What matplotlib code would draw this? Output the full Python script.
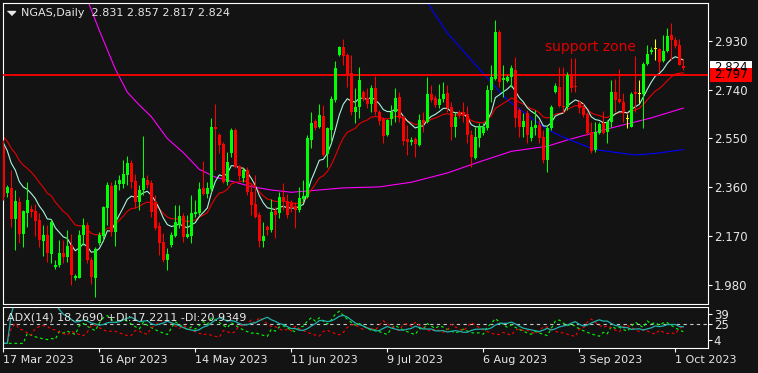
import numpy as np
import pandas as pd
import matplotlib
matplotlib.use("Agg")
import matplotlib.pyplot as plt
import matplotlib.transforms as mtransforms
from matplotlib.patches import Rectangle

# ── Data (NGAS daily, one row per bar) ───────────────────────────────────────
date_labels = ["17 Mar 2023", "16 Apr 2023", "14 May 2023", "11 Jun 2023",
               "9 Jul 2023", "6 Aug 2023", "3 Sep 2023", "1 Oct 2023"]
date_label_bars = [0, 24, 48, 72, 96, 120, 144, 168]

open_ = [
    2.517, 2.338, 2.358, 2.237, 2.303, 2.179, 2.261, 2.276, 2.268, 2.233,
    2.152, 2.175, 2.101, 2.051, 2.058, 2.105, 2.090, 2.136, 2.008, 2.008,
    2.175, 2.214, 2.078, 2.008, 2.144, 2.171, 2.280, 2.365, 2.187, 2.373,
    2.373, 2.408, 2.455, 2.385, 2.303, 2.350, 2.389, 2.377, 2.303, 2.210,
    2.148, 2.078, 2.136, 2.171, 2.214, 2.249, 2.167, 2.171, 2.257, 2.261,
    2.358, 2.334, 2.354, 2.595, 2.564, 2.529, 2.381, 2.494, 2.583, 2.443,
    2.397, 2.428, 2.342, 2.296, 2.253, 2.152, 2.206, 2.194, 2.268, 2.261,
    2.323, 2.307, 2.299, 2.288, 2.272, 2.315, 2.323, 2.544, 2.618, 2.595,
    2.637, 2.490, 2.583, 2.700, 2.874, 2.905, 2.874, 2.804, 2.653, 2.672,
    2.731, 2.707, 2.684, 2.746, 2.653, 2.626, 2.564, 2.626, 2.653, 2.711,
    2.634, 2.548, 2.536, 2.548, 2.525, 2.622, 2.614, 2.723, 2.707, 2.680,
    2.703, 2.727, 2.672, 2.595, 2.653, 2.653, 2.645, 2.564, 2.474, 2.552,
    2.571, 2.591, 2.738, 2.781, 2.964, 2.777, 2.773, 2.789, 2.816, 2.661,
    2.595, 2.649, 2.552, 2.591, 2.602, 2.556, 2.466, 2.591, 2.731, 2.750,
    2.676, 2.672, 2.797, 2.754, 2.692, 2.668, 2.645, 2.575, 2.505, 2.571,
    2.610, 2.575, 2.614, 2.731, 2.703, 2.692, 2.626, 2.595, 2.731, 2.723,
    2.723, 2.839, 2.886, 2.898, 2.898, 2.851, 2.890, 2.952, 2.933, 2.913, 2.831,
]
high = [
    2.544, 2.369, 2.428, 2.350, 2.323, 2.272, 2.381, 2.292, 2.296, 2.261,
    2.214, 2.214, 2.237, 2.078, 2.156, 2.156, 2.194, 2.179, 2.024, 2.194,
    2.241, 2.226, 2.090, 2.128, 2.187, 2.288, 2.381, 2.381, 2.389, 2.408,
    2.466, 2.482, 2.466, 2.412, 2.369, 2.560, 2.408, 2.389, 2.330, 2.226,
    2.183, 2.125, 2.187, 2.292, 2.292, 2.261, 2.253, 2.330, 2.311, 2.381,
    2.463, 2.381, 2.630, 2.684, 2.571, 2.536, 2.498, 2.591, 2.591, 2.447,
    2.435, 2.439, 2.377, 2.408, 2.264, 2.226, 2.214, 2.315, 2.284, 2.342,
    2.377, 2.334, 2.311, 2.303, 2.362, 2.389, 2.564, 2.653, 2.626, 2.684,
    2.680, 2.595, 2.715, 2.851, 2.909, 2.937, 2.882, 2.874, 2.746, 2.828,
    2.738, 2.746, 2.758, 2.793, 2.661, 2.634, 2.626, 2.680, 2.746, 2.731,
    2.641, 2.602, 2.556, 2.556, 2.645, 2.653, 2.789, 2.758, 2.719, 2.762,
    2.769, 2.758, 2.692, 2.653, 2.661, 2.692, 2.676, 2.583, 2.595, 2.610,
    2.610, 2.758, 2.835, 3.010, 2.971, 2.835, 2.797, 2.835, 2.867, 2.668,
    2.649, 2.661, 2.622, 2.661, 2.622, 2.583, 2.602, 2.680, 2.766, 2.828,
    2.828, 2.808, 2.863, 2.863, 2.700, 2.688, 2.653, 2.614, 2.614, 2.614,
    2.657, 2.622, 2.777, 2.781, 2.820, 2.727, 2.645, 2.731, 2.870, 2.777,
    2.847, 2.913, 2.905, 2.937, 2.902, 2.952, 2.979, 2.999, 2.944, 2.937, 2.857,
]
low = [
    2.311, 2.323, 2.206, 2.117, 2.144, 2.128, 2.206, 2.245, 2.171, 2.128,
    2.093, 2.070, 2.066, 2.043, 2.051, 2.066, 2.070, 1.981, 2.000, 2.008,
    2.136, 2.066, 1.985, 1.934, 2.136, 2.156, 2.214, 2.171, 2.132, 2.350,
    2.358, 2.369, 2.358, 2.280, 2.272, 2.330, 2.358, 2.245, 2.194, 2.097,
    2.070, 2.039, 2.128, 2.167, 2.202, 2.148, 2.163, 2.144, 2.245, 2.253,
    2.330, 2.319, 2.342, 2.428, 2.494, 2.377, 2.369, 2.478, 2.435, 2.389,
    2.381, 2.330, 2.253, 2.241, 2.128, 2.128, 2.175, 2.187, 2.163, 2.241,
    2.272, 2.241, 2.264, 2.202, 2.264, 2.303, 2.319, 2.513, 2.583, 2.591,
    2.482, 2.439, 2.536, 2.692, 2.870, 2.835, 2.750, 2.641, 2.610, 2.630,
    2.696, 2.668, 2.653, 2.641, 2.602, 2.532, 2.560, 2.602, 2.614, 2.614,
    2.525, 2.486, 2.525, 2.478, 2.521, 2.575, 2.610, 2.692, 2.672, 2.668,
    2.692, 2.653, 2.544, 2.556, 2.630, 2.614, 2.532, 2.439, 2.470, 2.517,
    2.564, 2.583, 2.692, 2.777, 2.750, 2.711, 2.769, 2.750, 2.595, 2.556,
    2.556, 2.532, 2.540, 2.564, 2.532, 2.455, 2.420, 2.583, 2.727, 2.672,
    2.649, 2.661, 2.731, 2.731, 2.649, 2.634, 2.564, 2.494, 2.498, 2.567,
    2.567, 2.532, 2.595, 2.653, 2.688, 2.614, 2.591, 2.595, 2.653, 2.688,
    2.591, 2.835, 2.878, 2.855, 2.808, 2.847, 2.886, 2.855, 2.902, 2.835, 2.817,
]
close = [
    2.323, 2.362, 2.237, 2.307, 2.179, 2.268, 2.311, 2.264, 2.229, 2.156,
    2.175, 2.105, 2.226, 2.058, 2.105, 2.090, 2.132, 2.020, 2.016, 2.175,
    2.214, 2.078, 2.012, 2.121, 2.175, 2.284, 2.369, 2.187, 2.369, 2.389,
    2.412, 2.455, 2.381, 2.303, 2.350, 2.397, 2.369, 2.264, 2.202, 2.144,
    2.078, 2.101, 2.175, 2.226, 2.249, 2.167, 2.179, 2.261, 2.264, 2.354,
    2.334, 2.358, 2.595, 2.587, 2.525, 2.381, 2.459, 2.583, 2.439, 2.404,
    2.428, 2.342, 2.292, 2.245, 2.152, 2.171, 2.194, 2.264, 2.253, 2.323,
    2.307, 2.253, 2.280, 2.272, 2.319, 2.327, 2.552, 2.610, 2.591, 2.641,
    2.486, 2.591, 2.703, 2.824, 2.905, 2.870, 2.800, 2.653, 2.672, 2.777,
    2.703, 2.684, 2.746, 2.653, 2.618, 2.560, 2.622, 2.653, 2.707, 2.630,
    2.540, 2.536, 2.544, 2.529, 2.622, 2.610, 2.723, 2.700, 2.680, 2.703,
    2.723, 2.668, 2.595, 2.634, 2.641, 2.641, 2.564, 2.478, 2.556, 2.595,
    2.595, 2.738, 2.789, 2.964, 2.769, 2.785, 2.789, 2.824, 2.630, 2.595,
    2.618, 2.564, 2.595, 2.602, 2.552, 2.466, 2.591, 2.672, 2.754, 2.676,
    2.672, 2.797, 2.746, 2.750, 2.668, 2.641, 2.571, 2.501, 2.575, 2.606,
    2.571, 2.614, 2.731, 2.700, 2.692, 2.653, 2.626, 2.723, 2.723, 2.723,
    2.839, 2.878, 2.894, 2.898, 2.847, 2.890, 2.948, 2.933, 2.909, 2.835, 2.824,
]

# fast / slow EMA starting levels (where the lines enter at the left edge)
fast_period, fast_seed = 10, 2.58
slow_period, slow_seed = 21, 2.58

# long moving averages: they come from older history, so read as points
ma_magenta_bars = [20, 21, 24, 28, 31, 34, 37, 41, 45, 49, 53, 58, 62, 67, 72,
                   79, 85, 94, 102, 111, 119, 127, 136, 141, 152, 162, 170]
ma_magenta_vals = [3.13, 3.09, 2.97, 2.82, 2.73, 2.68, 2.635, 2.55, 2.495, 2.43,
                   2.40, 2.38, 2.363, 2.35, 2.341, 2.35, 2.358, 2.362, 2.38,
                   2.416, 2.459, 2.50, 2.52, 2.544, 2.591, 2.63, 2.668]
ma_blue_bars = [104, 106, 108, 111, 115, 119, 123, 126, 132, 136, 140, 144,
                148, 152, 158, 163, 170]
ma_blue_vals = [3.14, 3.08, 3.03, 2.96, 2.89, 2.82, 2.75, 2.70, 2.63, 2.585,
                2.555, 2.53, 2.507, 2.498, 2.486, 2.492, 2.507]

support_level = 2.797
price_ticks = [1.980, 2.170, 2.360, 2.550, 2.740, 2.930]
adx_ticks = [4, 25, 39]
adx_level = 25
adx_text = "ADX(14) 18.2690 +DI:17.2211 -DI:20.9349"

# ── Colours ──────────────────────────────────────────────────────────────────
BG = "#131313"
FG = "#e6e6e6"
GREEN = "#00ff00"
RED = "#ff0000"
DOJI = "#ffff00"


def ema(values, period, seed):
    alpha = 2.0 / (period + 1)
    out, prev = [], seed
    for v in values:
        prev = prev + alpha * (v - prev)
        out.append(prev)
    return np.array(out)


def adx_lines(h, l, c, n=14):
    """MT4-style ADX: per-bar DI ratios smoothed with an EMA."""
    hs, ls, cs = pd.Series(h), pd.Series(l), pd.Series(c)
    prev_c = cs.shift(1).fillna(cs.iloc[0])
    pdm = hs.diff().fillna(0).clip(lower=0)
    mdm = (-ls.diff()).fillna(0).clip(lower=0)
    pdm_ = np.where(pdm > mdm, pdm, 0.0)
    mdm_ = np.where(mdm > pdm, mdm, 0.0)
    tr = pd.concat([hs - ls, (hs - prev_c).abs(), (ls - prev_c).abs()], axis=1).max(axis=1)
    tr = tr.replace(0, np.nan)
    p_sdi = pd.Series(100 * pdm_ / tr).fillna(0)
    m_sdi = pd.Series(100 * mdm_ / tr).fillna(0)
    pdi = p_sdi.ewm(span=n, adjust=True).mean()
    mdi = m_sdi.ewm(span=n, adjust=True).mean()
    dx = (100 * (pdi - mdi).abs() / (pdi + mdi).replace(0, np.nan)).fillna(0)
    adx = dx.ewm(span=n, adjust=True).mean()
    return adx.values, pdi.values, mdi.values


o = np.array(open_)
h = np.array(high)
l = np.array(low)
c = np.array(close)
x = np.arange(len(c))

fig = plt.figure(figsize=(7.58, 3.73), dpi=100)
fig.patch.set_facecolor(BG)

# axes placed in pixel terms of the 758x373 canvas
W_PX, H_PX = 758.0, 373.0
left, right = 2.7, 708.3
ax = fig.add_axes([left / W_PX, (H_PX - 304) / H_PX,
                   (right - left) / W_PX, (304 - 2.7) / H_PX])
ax2 = fig.add_axes([left / W_PX, (H_PX - 348.3) / H_PX,
                    (right - left) / W_PX, (348.3 - 306.7) / H_PX])

for a in (ax, ax2):
    a.set_facecolor(BG)
    a.set_xlim(-0.15, 176.25)
    for sp in a.spines.values():
        sp.set_color("white")
        sp.set_linewidth(0.8)

ax.set_ylim(1.907, 3.0775)

# ── Moving averages ─────────────────────────────────────────────────────────
ax.plot(ma_magenta_bars, ma_magenta_vals, color="#ff00ff", lw=0.8, zorder=2)
ax.plot(ma_blue_bars, ma_blue_vals, color="#0000ff", lw=0.8, zorder=2)
ax.plot(x, ema(c, slow_period, slow_seed), color="#e80000", lw=0.8, zorder=2)
ax.plot(x, ema(c, fast_period, fast_seed), color="#a8f5dc", lw=0.8, zorder=2)

# ── Support line ────────────────────────────────────────────────────────────
ax.axhline(support_level, color=RED, lw=1.3, zorder=3)
ax.text(146.9, 2.905, "support zone", color="#e00000", fontsize=10,
        ha="center", va="center", zorder=5)

# ── Candles ─────────────────────────────────────────────────────────────────
colors = np.where(c > o, GREEN, np.where(c < o, RED, DOJI))
ax.vlines(x, l, h, colors=colors, lw=0.75, zorder=4)
body_h = np.maximum(np.abs(c - o), 0.004)
body_b = np.where(c == o, o - 0.002, np.minimum(o, c))
ax.bar(x, body_h, bottom=body_b, width=0.75, color=colors, lw=0, zorder=4)

# ── Price axis ──────────────────────────────────────────────────────────────
ax.yaxis.tick_right()
ax.set_yticks(price_ticks)
ax.set_yticklabels([f"{p:.3f}" for p in price_ticks])
ax.tick_params(axis="y", colors="white", labelcolor=FG, direction="out",
               length=2.9, width=0.8, pad=1, labelsize=8.5)
ax.set_xticks([])

# current price / support price boxes on the scale
blend = mtransforms.blended_transform_factory(ax.transAxes, ax.transData)
box_x, box_w, box_h = 1.0024, 0.0595, 0.052
for price, face in ((c[-1], "white"), (support_level, RED)):
    ax.add_patch(Rectangle((box_x, price - box_h / 2), box_w, box_h,
                           transform=blend, facecolor=face, edgecolor="none",
                           clip_on=False, zorder=6))
    ax.text(box_x + box_w / 2, price, f"{price:.3f}", transform=blend,
            ha="center", va="center", fontsize=8.5, color="black",
            clip_on=False, zorder=7)

# ── Header ──────────────────────────────────────────────────────────────────
ax.plot([0.0118], [0.9658], transform=ax.transAxes, marker=[(-1, 0.5), (1, 0.5), (0, -0.5)],
        ms=5.8, color=FG, mec=FG, ls="none", clip_on=False)
ax.text(0.0260, 0.9658,
        f"NGAS,Daily  {o[-1]:.3f} {h[-1]:.3f} {l[-1]:.3f} {c[-1]:.3f}",
        transform=ax.transAxes, color=FG, fontsize=8, ha="left", va="center")

# ── ADX sub-window ──────────────────────────────────────────────────────────
adx, pdi, mdi = adx_lines(h, l, c)
ax2.set_ylim(-6.5, 48)
ax2.axhline(adx_level, color="#c8c8c8", lw=0.8, ls=(0, (3, 3)))
ax2.plot(x, pdi, color=GREEN, lw=0.8, ls=(0, (2.5, 2.5)))
ax2.plot(x, mdi, color=RED, lw=0.8, ls=(0, (2.5, 2.5)))
ax2.plot(x, adx, color="#20b2aa", lw=0.9)
ax2.text(0.0061, 0.7356, adx_text, transform=ax2.transAxes, color=FG,
         fontsize=8, ha="left", va="center")

ax2.yaxis.tick_right()
ax2.set_yticks(adx_ticks)
ax2.set_yticklabels([str(t) for t in adx_ticks])
ax2.tick_params(axis="y", colors="white", labelcolor=FG, direction="out",
                length=2.9, width=0.8, pad=1, labelsize=8.5)
ax2.set_xticks(date_label_bars)
ax2.set_xticklabels(date_labels, ha="left")
ax2.tick_params(axis="x", colors="white", labelcolor=FG, direction="out",
                length=3, width=0.8, pad=1.5, labelsize=8)

fig.savefig("out.png", dpi=100, facecolor=fig.get_facecolor())
plt.close(fig)
